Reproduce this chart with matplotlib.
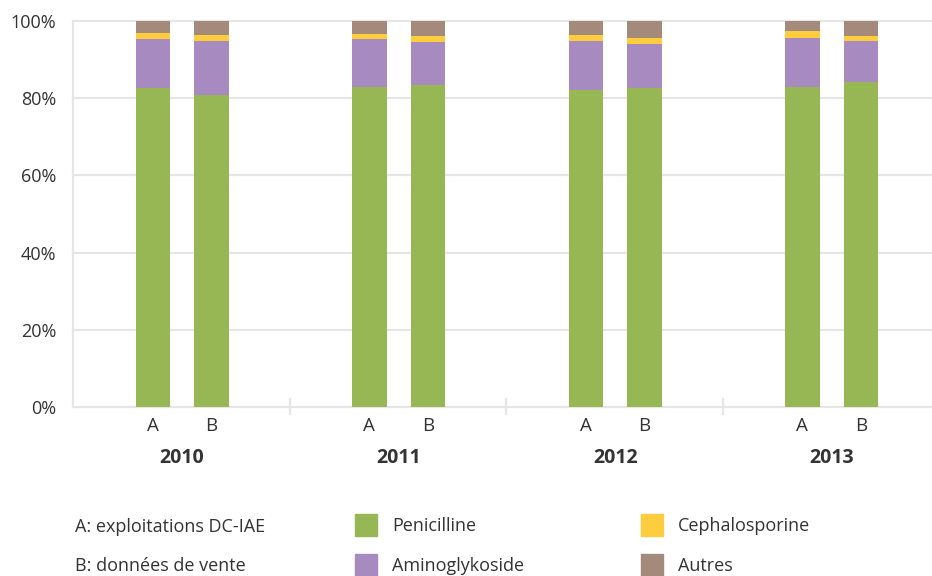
import matplotlib
matplotlib.use("Agg")
import matplotlib.pyplot as plt
from matplotlib.patches import Rectangle
from matplotlib.transforms import blended_transform_factory
import numpy as np

plt.rcParams['font.family'] = ['Open Sans', 'DejaVu Sans']

years = ["2010", "2011", "2012", "2013"]
sources = ["A", "B"]
series = ["Penicilline", "Aminoglykoside", "Cephalosporine", "Autres"]
colors = ["#97b755", "#a78ac0", "#fecd3e", "#a38a7a"]

# values per bar (order: 2010A, 2010B, 2011A, 2011B, 2012A, 2012B, 2013A, 2013B)
penicilline    = [82.6, 80.8, 83.0, 83.4, 82.1, 82.6, 83.0, 84.3]
aminoglykoside = [12.7, 14.1, 12.3, 11.2, 12.7, 11.5, 12.6, 10.6]
cephalosporine = [1.7, 1.4, 1.3, 1.6, 1.7, 1.4, 1.7, 1.3]
autres         = [3.0, 3.7, 3.4, 3.8, 3.5, 4.5, 2.7, 3.8]

yticks = [0, 20, 40, 60, 80, 100]
ytick_labels = ["0%", "20%", "40%", "60%", "80%", "100%"]

legend_notes = ["A: exploitations DC-IAE", "B: données de vente"]

W, H = 932, 576
fig = plt.figure(figsize=(W / 100, H / 100), dpi=100)
ax = fig.add_axes([73 / W, 169 / H, 866 / W, 386 / H])

txt = "#333333"
grid = "#e6e6e6"

offsets = [-0.135, 0.135]
xs = np.array([g + o for g in range(len(years)) for o in offsets])
width = 0.16
data = [penicilline, aminoglykoside, cephalosporine, autres]
bottom = np.zeros(len(xs))
for vals, c in zip(data, colors):
    vals = np.array(vals)
    ax.bar(xs + 0.004, vals, width=width, bottom=bottom, color=c, edgecolor="none", zorder=3)
    bottom += vals

ax.set_xlim(-0.5, 3.5)
ax.set_ylim(0, 100)
for yv in yticks[1:]:
    ax.axhline(yv, color=grid, lw=1.6, zorder=1, clip_on=False)
for s in ["top", "right"]:
    ax.spines[s].set_visible(False)
ax.spines["left"].set_color(grid)
ax.spines["left"].set_linewidth(1.6)
ax.spines["bottom"].set_color(grid)
ax.spines["bottom"].set_linewidth(1.6)

ax.set_yticks(yticks)
ax.set_yticklabels(ytick_labels, fontsize=13, color=txt)
ax.tick_params(axis="y", length=0, pad=12)
ax.set_xticks([])

trans = blended_transform_factory(ax.transData, ax.transAxes)
for g in range(1, len(years)):
    ax.plot([g - 0.5, g - 0.5], [-0.018, 0.022], transform=trans, color=grid,
            lw=1.6, clip_on=False, zorder=2)

for i, x in enumerate(xs):
    ax.text(x + 0.004, -0.048, sources[i % 2], transform=trans, ha="center", va="center",
            fontsize=13.5, color=txt)
for g, y in enumerate(years):
    ax.text(g + 0.004, -0.133, y, transform=trans, ha="center", va="center",
            fontsize=14, fontweight="bold", color=txt)

# legend
def fx(px):
    return px / W

def fy(py):
    return 1 - py / H

fig.text(fx(75), fy(527), legend_notes[0], ha="left", va="center", fontsize=13, color=txt)
fig.text(fx(75), fy(566), legend_notes[1], ha="left", va="center", fontsize=13, color=txt)

leg_pos = [(355, 525), (355, 565), (641, 525), (641, 565)]
for (px, py), k in zip(leg_pos, range(len(series))):
    fig.patches.append(Rectangle((fx(px), fy(py + 11)), 22 / W, 22 / H,
                                 transform=fig.transFigure, color=colors[k]))
    fig.text(fx(px + 37), fy(py + 1), series[k], ha="left", va="center", fontsize=13, color=txt)

fig.savefig("out.png", dpi=100)
